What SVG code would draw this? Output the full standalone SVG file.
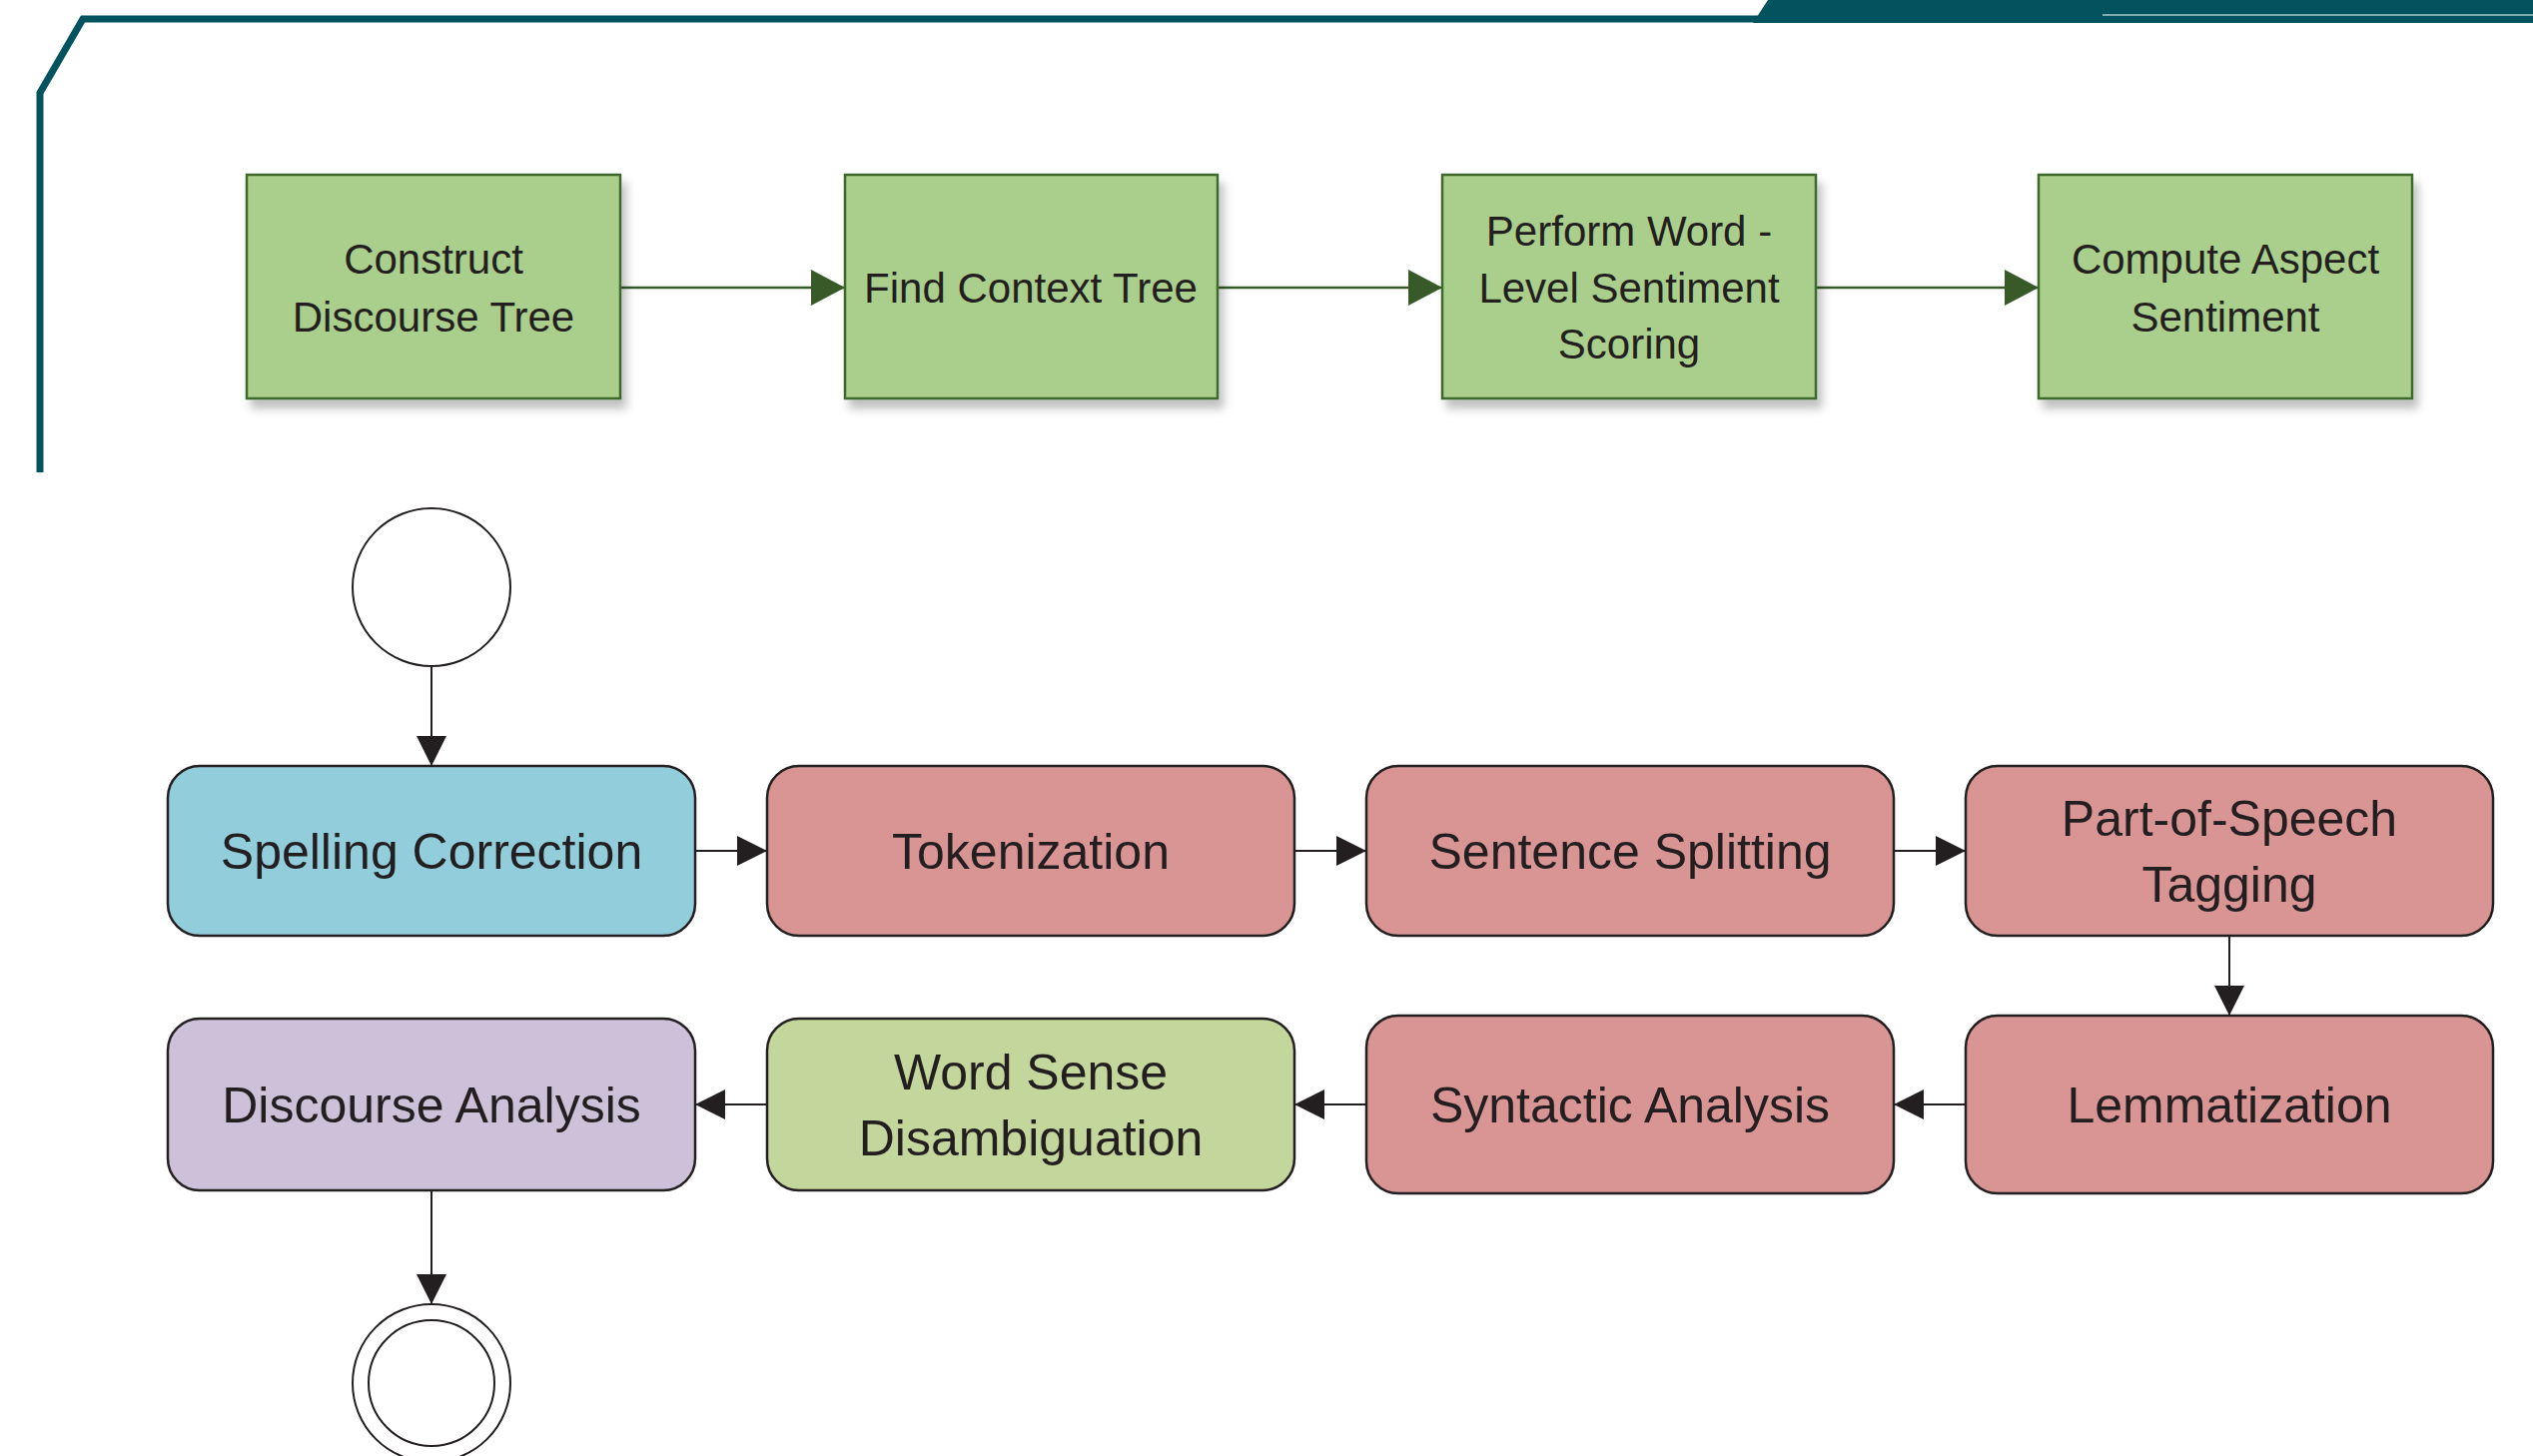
<svg xmlns="http://www.w3.org/2000/svg" width="2536" height="1458" viewBox="0 0 2536 1458">
<style>
.frame{fill:none;stroke:#03535f;stroke-width:7;stroke-linejoin:miter}
.tbox{fill:#aacf8c;stroke:#3e6a2c;stroke-width:2.5}
.ttxt{font-family:"Liberation Sans",Arial,sans-serif;font-size:42px;fill:#231f20;text-anchor:middle}
.btxt{font-family:"Liberation Sans",Arial,sans-serif;font-size:50px;fill:#231f20;text-anchor:middle}
.rb{stroke:#231f20;stroke-width:2.5}
.blue{fill:#92cddc}
.pink{fill:#d99594}
.lgreen{fill:#c3d69b}
.lav{fill:#ccc1d9}
.gcon{fill:none;stroke:#375a28;stroke-width:2.5;marker-end:url(#ga)}
.kcon{fill:none;stroke:#231f20;stroke-width:2;marker-end:url(#ka)}
.circ{fill:#fff;stroke:#231f20;stroke-width:2}
</style>
<defs>
<marker id="ga" markerUnits="userSpaceOnUse" viewBox="0 0 34 36" markerWidth="34" markerHeight="36" refX="34" refY="18" orient="auto">
<path d="M0,0 L34,18 L0,36 z" fill="#375a28"/>
</marker>
<marker id="ka" markerUnits="userSpaceOnUse" viewBox="0 0 30 30" markerWidth="30" markerHeight="30" refX="30" refY="15" orient="auto">
<path d="M0,0 L30,15 L0,30 z" fill="#231f20"/>
</marker>
<filter id="sh" x="-10%" y="-10%" width="130%" height="130%">
<feDropShadow dx="5" dy="9" stdDeviation="5" flood-color="#000" flood-opacity="0.25"/>
</filter>
</defs>
<rect width="2536" height="1458" fill="#fff"/>
<g id="frame">
<polyline class="frame" points="40,473 40,93 83,19 2536,19"/>
<polygon points="1770,0 2536,0 2536,23 1755,23" fill="#03535f"/>
<line x1="2105" y1="15" x2="2536" y2="15" stroke="#a9c7cb" stroke-width="1.5"/>
</g>
<g id="connectors">
<path class="gcon" d="M621,288 H846"/>
<path class="gcon" d="M1219,288 H1444"/>
<path class="gcon" d="M1818,288 H2041"/>
<path class="kcon" d="M432,667 V767"/>
<path class="kcon" d="M696,852 H768"/>
<path class="kcon" d="M1296,852 H1368"/>
<path class="kcon" d="M1896,852 H1968"/>
<path class="kcon" d="M2232,937 V1017"/>
<path class="kcon" d="M1968,1106 H1896"/>
<path class="kcon" d="M1368,1106 H1296"/>
<path class="kcon" d="M768,1106 H696"/>
<path class="kcon" d="M432,1192 V1306"/>
</g>
<g id="construct-discourse-tree">
<rect class="tbox" x="247" y="175" width="374" height="224" filter="url(#sh)"/>
<text class="ttxt" x="434" y="274">Construct</text>
<text class="ttxt" x="434" y="332">Discourse Tree</text>
</g>
<g id="find-context-tree">
<rect class="tbox" x="846" y="175" width="373" height="224" filter="url(#sh)"/>
<text class="ttxt" x="1032" y="303">Find Context Tree</text>
</g>
<g id="word-level-sentiment">
<rect class="tbox" x="1444" y="175" width="374" height="224" filter="url(#sh)"/>
<text class="ttxt" x="1631" y="246">Perform Word -</text>
<text class="ttxt" x="1631" y="303">Level Sentiment</text>
<text class="ttxt" x="1631" y="359">Scoring</text>
</g>
<g id="compute-aspect-sentiment">
<rect class="tbox" x="2041" y="175" width="374" height="224" filter="url(#sh)"/>
<text class="ttxt" x="2228" y="274">Compute Aspect</text>
<text class="ttxt" x="2228" y="332">Sentiment</text>
</g>
<g id="start">
<circle class="circ" cx="432" cy="588" r="79"/>
</g>
<g id="spelling-correction">
<rect class="rb blue" x="168" y="767" width="528" height="170" rx="32"/>
<text class="btxt" x="432" y="870">Spelling Correction</text>
</g>
<g id="tokenization">
<rect class="rb pink" x="768" y="767" width="528" height="170" rx="32"/>
<text class="btxt" x="1032" y="870">Tokenization</text>
</g>
<g id="sentence-splitting">
<rect class="rb pink" x="1368" y="767" width="528" height="170" rx="32"/>
<text class="btxt" x="1632" y="870">Sentence Splitting</text>
</g>
<g id="pos-tagging">
<rect class="rb pink" x="1968" y="767" width="528" height="170" rx="32"/>
<text class="btxt" x="2232" y="837">Part-of-Speech</text>
<text class="btxt" x="2232" y="903">Tagging</text>
</g>
<g id="lemmatization">
<rect class="rb pink" x="1968" y="1017" width="528" height="178" rx="32"/>
<text class="btxt" x="2232" y="1124">Lemmatization</text>
</g>
<g id="syntactic-analysis">
<rect class="rb pink" x="1368" y="1017" width="528" height="178" rx="32"/>
<text class="btxt" x="1632" y="1124">Syntactic Analysis</text>
</g>
<g id="word-sense-disambiguation">
<rect class="rb lgreen" x="768" y="1020" width="528" height="172" rx="32"/>
<text class="btxt" x="1032" y="1091">Word Sense</text>
<text class="btxt" x="1032" y="1157">Disambiguation</text>
</g>
<g id="discourse-analysis">
<rect class="rb lav" x="168" y="1020" width="528" height="172" rx="32"/>
<text class="btxt" x="432" y="1124">Discourse Analysis</text>
</g>
<g id="end">
<circle class="circ" cx="432" cy="1385" r="79"/>
<circle class="circ" cx="432" cy="1385" r="63"/>
</g>
</svg>
